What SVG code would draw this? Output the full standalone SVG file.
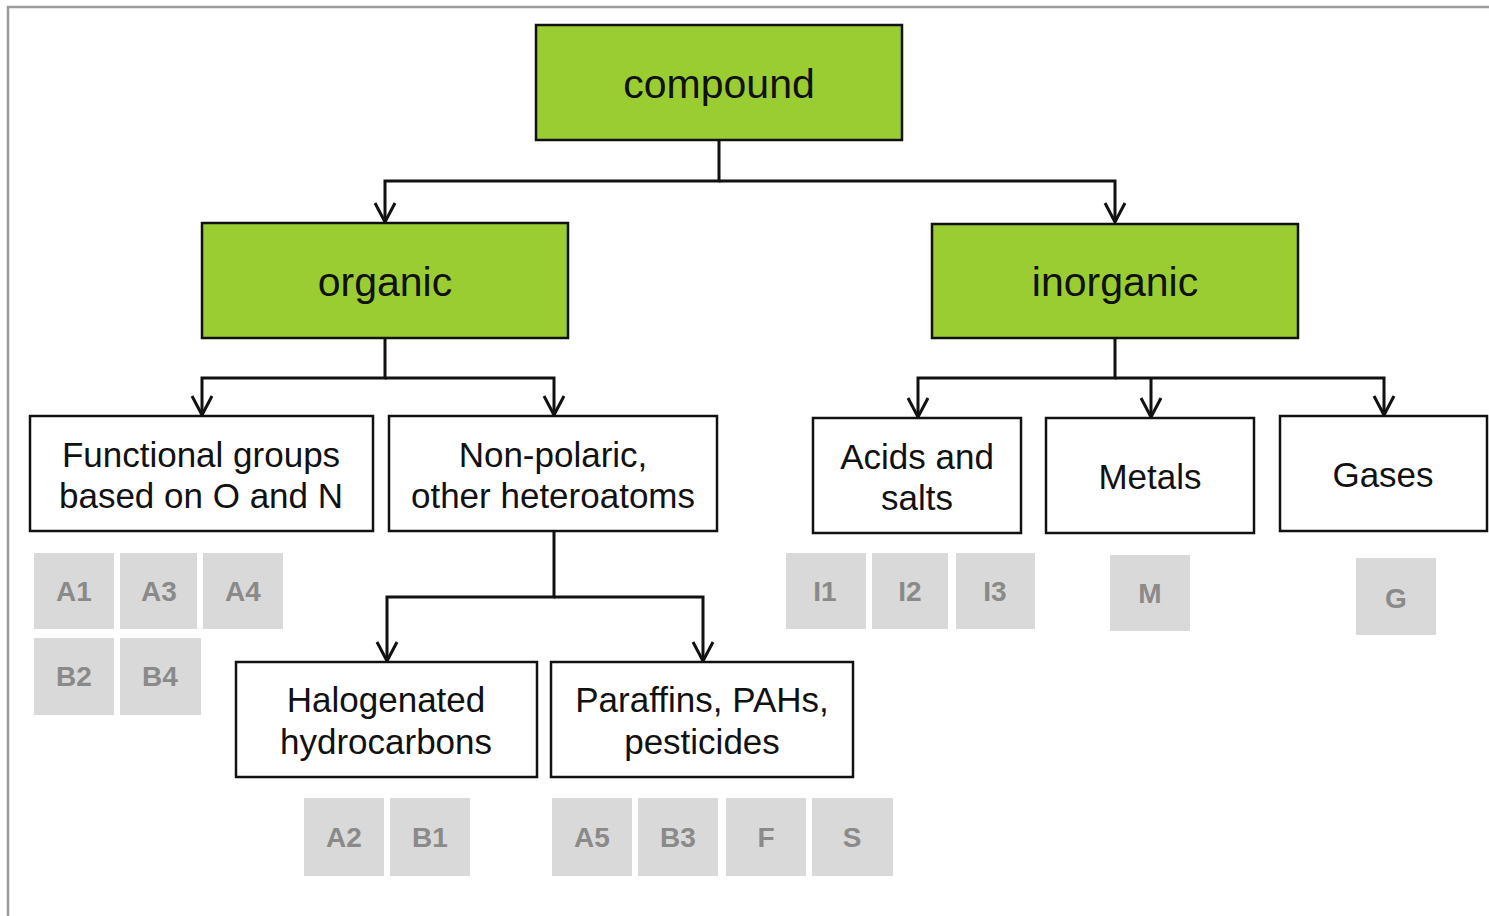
<svg xmlns="http://www.w3.org/2000/svg" width="1489" height="916" viewBox="0 0 1489 916">
<style>
.g rect{fill:#9acd32;stroke:#111;stroke-width:2.5}
.w rect{fill:#fff;stroke:#111;stroke-width:2.5}
.t{font-family:"Liberation Sans",Arial,sans-serif;fill:#111;text-anchor:middle}
.big{font-size:41px}
.mid{font-size:35px}
.tag rect{fill:#d9d9d9}
.tag text{font-family:"Liberation Sans",Arial,sans-serif;font-weight:bold;font-size:28px;fill:#8a8a8a;text-anchor:middle}
.c path{fill:none;stroke:#111;stroke-width:3}
</style>
<defs>
<marker id="arr" markerUnits="userSpaceOnUse" markerWidth="24" markerHeight="24" viewBox="-20 -12 24 24" refX="0" refY="0" orient="auto" overflow="visible">
<path d="M-19,-10 L0,0 L-19,10" fill="none" stroke="#111" stroke-width="3"/>
</marker>
</defs>
<rect width="1489" height="916" fill="#fff"/>
<path d="M8,916 V7 H1489" fill="none" stroke="#9a9a9a" stroke-width="2.5"/>

<g class="c" id="connectors">
<path d="M719,141 V181 H385 V222" marker-end="url(#arr)"/>
<path d="M719,181 H1115 V222" marker-end="url(#arr)"/>
<path d="M385,338 V378 H202 V415" marker-end="url(#arr)"/>
<path d="M385,378 H554 V415" marker-end="url(#arr)"/>
<path d="M1115,338 V378 H918 V417" marker-end="url(#arr)"/>
<path d="M1151,378 V417" marker-end="url(#arr)"/>
<path d="M1115,378 H1384 V415" marker-end="url(#arr)"/>
<path d="M554,531 V597 H387 V661" marker-end="url(#arr)"/>
<path d="M554,597 H703 V661" marker-end="url(#arr)"/>
</g>

<g id="compound" class="g"><rect x="536" y="25" width="366" height="115"/><text class="t big" x="719" y="98">compound</text></g>
<g id="organic" class="g"><rect x="202" y="223" width="366" height="115"/><text class="t big" x="385" y="296">organic</text></g>
<g id="inorganic" class="g"><rect x="932" y="224" width="366" height="114"/><text class="t big" x="1115" y="296">inorganic</text></g>

<g id="functional" class="w"><rect x="30" y="416" width="343" height="115"/><text class="t mid" x="201" y="467">Functional groups</text><text class="t mid" x="201" y="508">based on O and N</text></g>
<g id="nonpolaric" class="w"><rect x="389" y="416" width="328" height="115"/><text class="t mid" x="553" y="467">Non-polaric,</text><text class="t mid" x="553" y="508">other heteroatoms</text></g>
<g id="acids" class="w"><rect x="813" y="418" width="208" height="115"/><text class="t mid" x="917" y="469">Acids and</text><text class="t mid" x="917" y="510">salts</text></g>
<g id="metals" class="w"><rect x="1046" y="418" width="208" height="115"/><text class="t mid" x="1150" y="489">Metals</text></g>
<g id="gases" class="w"><rect x="1280" y="416" width="207" height="115"/><text class="t mid" x="1383" y="487">Gases</text></g>
<g id="halogenated" class="w"><rect x="236" y="662" width="301" height="115"/><text class="t mid" x="386" y="712">Halogenated</text><text class="t mid" x="386" y="754">hydrocarbons</text></g>
<g id="paraffins" class="w"><rect x="551" y="662" width="302" height="115"/><text class="t mid" x="702" y="712">Paraffins, PAHs,</text><text class="t mid" x="702" y="754">pesticides</text></g>

<g id="tag-A1" class="tag"><rect x="34" y="553" width="80" height="76"/><text x="74" y="601">A1</text></g>
<g id="tag-A3" class="tag"><rect x="120" y="553" width="77" height="76"/><text x="159" y="601">A3</text></g>
<g id="tag-A4" class="tag"><rect x="203" y="553" width="80" height="76"/><text x="243" y="601">A4</text></g>
<g id="tag-B2" class="tag"><rect x="34" y="638" width="80" height="77"/><text x="74" y="686">B2</text></g>
<g id="tag-B4" class="tag"><rect x="120" y="638" width="81" height="77"/><text x="160" y="686">B4</text></g>
<g id="tag-I1" class="tag"><rect x="786" y="553" width="80" height="76"/><text x="825" y="601">I1</text></g>
<g id="tag-I2" class="tag"><rect x="872" y="553" width="76" height="76"/><text x="910" y="601">I2</text></g>
<g id="tag-I3" class="tag"><rect x="956" y="553" width="79" height="76"/><text x="995" y="601">I3</text></g>
<g id="tag-M" class="tag"><rect x="1110" y="555" width="80" height="76"/><text x="1150" y="603">M</text></g>
<g id="tag-G" class="tag"><rect x="1356" y="558" width="80" height="77"/><text x="1396" y="608">G</text></g>
<g id="tag-A2" class="tag"><rect x="304" y="798" width="80" height="78"/><text x="344" y="847">A2</text></g>
<g id="tag-B1" class="tag"><rect x="390" y="798" width="80" height="78"/><text x="430" y="847">B1</text></g>
<g id="tag-A5" class="tag"><rect x="552" y="798" width="80" height="78"/><text x="592" y="847">A5</text></g>
<g id="tag-B3" class="tag"><rect x="638" y="798" width="80" height="78"/><text x="678" y="847">B3</text></g>
<g id="tag-F" class="tag"><rect x="726" y="798" width="80" height="78"/><text x="766" y="847">F</text></g>
<g id="tag-S" class="tag"><rect x="812" y="798" width="81" height="78"/><text x="852" y="847">S</text></g>
</svg>
